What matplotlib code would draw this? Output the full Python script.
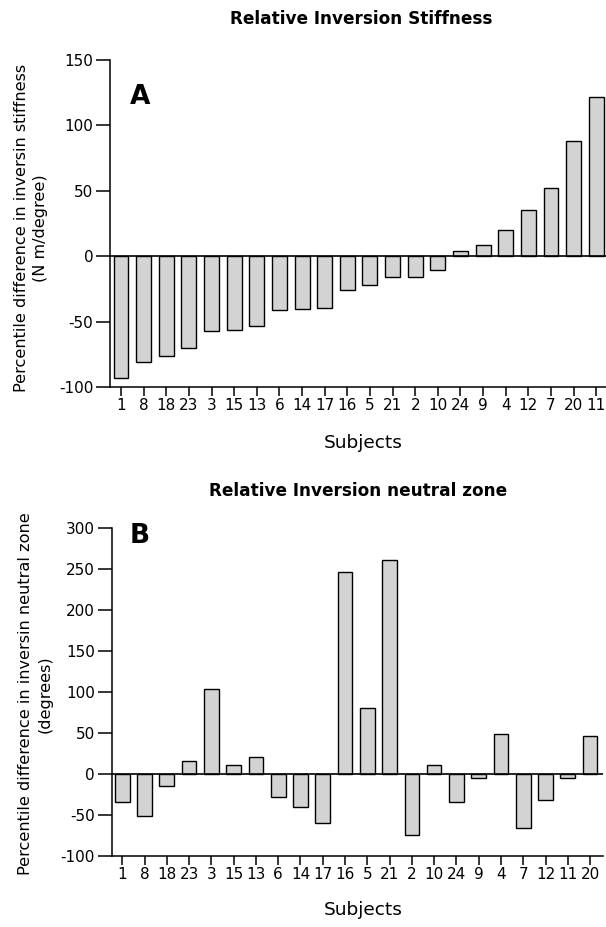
import numpy as np
import matplotlib.pyplot as plt

plt.rcParams["axes.unicode_minus"] = False

# panel A: relative inversion stiffness, sorted by value
subjects_a = ["1", "8", "18", "23", "3", "15", "13", "6", "14", "17", "16",
              "5", "21", "2", "10", "24", "9", "4", "12", "7", "20", "11"]
stiffness = [-93.5, -81, -76.5, -70.5, -57.5, -56.5, -53.5, -41.5, -40.5, -39.5, -25.5,
             -22, -16, -16, -10.5, 4, 8.5, 20, 35, 52, 88, 122]

# panel B: relative inversion neutral zone
subjects_b = ["1", "8", "18", "23", "3", "15", "13", "6", "14", "17", "16",
              "5", "21", "2", "10", "24", "9", "4", "7", "12", "11", "20"]
neutral_zone = [-34.5, -51, -14, 16.5, 103.5, 10.5, 21, -28.5, -40.5, -60, 247,
                80.5, 261, -74, 10.5, -34.5, -5, 49, -66, -31.5, -5, 46]

BAR_FILL = "#d3d3d3"


def draw_panel(ax, labels, values, ylim, yticks, xlim):
    x = np.arange(len(labels))
    ax.bar(x, values, width=0.66, color=BAR_FILL, edgecolor="black",
           linewidth=1.0, zorder=2)
    ax.axhline(0, color="black", lw=1.2, zorder=3)
    ax.set_ylim(*ylim)
    ax.set_xlim(*xlim)
    ax.set_yticks(yticks)
    ax.set_xticks(x)
    ax.set_xticklabels(labels)
    for side in ("top", "right"):
        ax.spines[side].set_visible(False)
    for side in ("left", "bottom"):
        ax.spines[side].set_linewidth(1.1)
    ax.tick_params(axis="y", length=10, width=1.1, pad=2, labelsize=11)
    ax.tick_params(axis="x", length=6.5, width=1.1, pad=1.5, labelsize=11)


fig = plt.figure(figsize=(6.06, 9.27), dpi=100)

ax_a = fig.add_axes([110 / 606, 1 - 387 / 927, 496 / 606, 327 / 927])
draw_panel(ax_a, subjects_a, stiffness, (-100, 150), [-100, -50, 0, 50, 100, 150],
           (-0.486, 21.43))

ax_b = fig.add_axes([111.7 / 606, 1 - 856 / 927, 491.3 / 606, 327.7 / 927])
draw_panel(ax_b, subjects_b, neutral_zone, (-100, 300),
           [-100, -50, 0, 50, 100, 150, 200, 250, 300], (-0.475, 21.58))


def fx(px):
    return px / 606


def fy(py):
    return 1 - py / 927


fig.text(fx(361), fy(19), "Relative Inversion Stiffness", ha="center", va="center",
         fontsize=12.2, fontweight="bold")
fig.text(fx(358), fy(491), "Relative Inversion neutral zone", ha="center", va="center",
         fontsize=12.2, fontweight="bold")

fig.text(fx(140), fy(97), "A", ha="center", va="center", fontsize=19, fontweight="bold")
fig.text(fx(140), fy(536), "B", ha="center", va="center", fontsize=19, fontweight="bold")

fig.text(fx(31), fy(228), "Percentile difference in inversin stiffness\n(N m/degree)",
         rotation=90, ha="center", va="center", multialignment="center",
         fontsize=11.6, linespacing=1.4)
fig.text(fx(35), fy(694), "Percentile difference in inversin neutral zone\n(degrees)",
         rotation=90, ha="center", va="center", multialignment="center",
         fontsize=11.6, linespacing=1.4)

fig.text(fx(363), fy(443), "Subjects", ha="center", va="center", fontsize=13.3)
fig.text(fx(363), fy(910), "Subjects", ha="center", va="center", fontsize=13.3)

fig.savefig("out.png", dpi=100)
